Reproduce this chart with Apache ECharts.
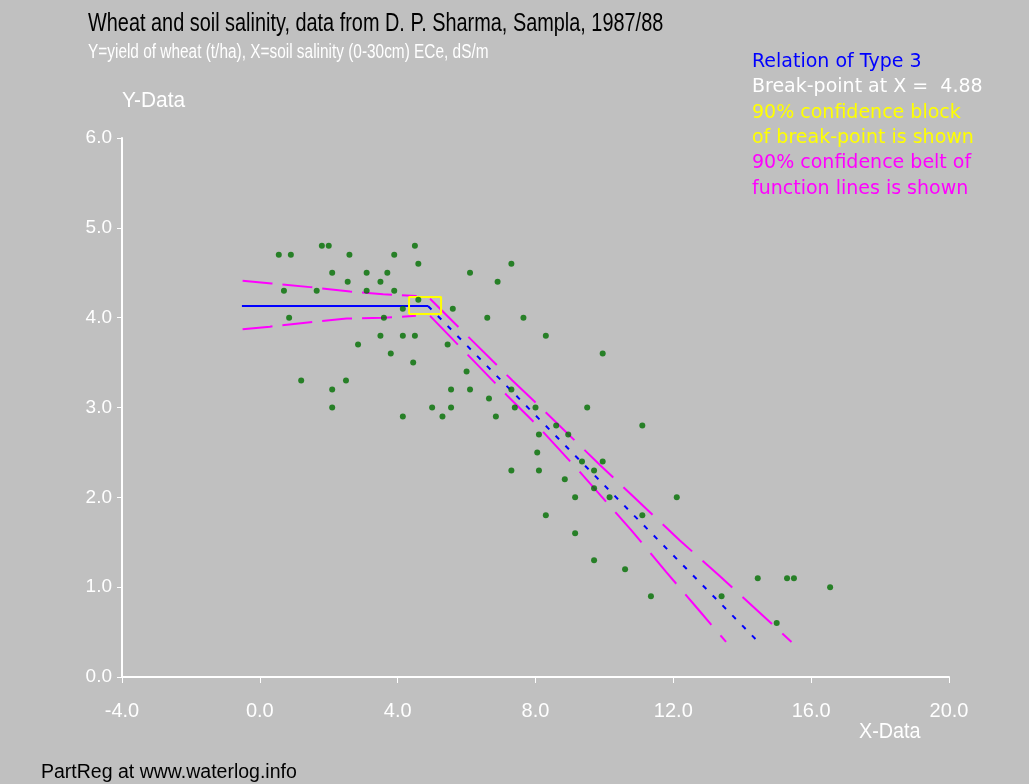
<!DOCTYPE html>
<html>
<head>
<meta charset="utf-8">
<script src="https://cdn.jsdelivr.net/npm/echarts@6/dist/echarts.min.js"></script>
<style>
html,body{margin:0;padding:0;background:#c0c0c0;}
#chart{width:1029px;height:784px;}
</style>
</head>
<body>
<div id="chart"></div>
<script>
// ---- data ----
const salinity = [1.8,2.0,4.5,0.55,0.9,2.6,3.9,4.6,2.1,3.1,3.7,6.1,2.55,3.5,0.7,1.65,3.1,3.9,4.6,4.15,5.6,0.85,3.6,6.6,3.5,4.15,4.5,2.85,5.45,3.8,4.45,6.0,1.2,2.5,2.1,5.55,6.1,6.65,2.1,5.0,5.55,4.15,5.3,7.3,6.9,7.65,8.3,9.95,7.3,7.4,8.0,9.5,6.85,8.6,11.1,8.1,8.95,8.05,9.35,9.95,7.3,8.1,9.7,8.85,9.7,9.15,10.15,12.1,11.1,8.3,9.15,9.7,10.6,11.35,13.4,14.45,15.3,15.5,16.55,15.0];
const yieldT   = [4.8,4.8,4.8,4.7,4.7,4.7,4.7,4.6,4.5,4.5,4.5,4.5,4.4,4.4,4.3,4.3,4.3,4.3,4.2,4.1,4.1,4.0,4.0,4.0,3.8,3.8,3.8,3.7,3.7,3.6,3.5,3.4,3.3,3.3,3.2,3.2,3.2,3.1,3.0,3.0,3.0,2.9,2.9,4.6,4.4,4.0,3.8,3.6,3.2,3.0,3.0,3.0,2.9,2.8,2.8,2.7,2.7,2.5,2.4,2.4,2.3,2.3,2.3,2.2,2.1,2.0,2.0,2.0,1.8,1.8,1.6,1.3,1.2,0.9,0.9,1.1,1.1,1.1,1.0,0.6];

const breakX = 4.88;
const fitFlat  = [[-0.52,4.13],[4.88,4.13]];
const fitSlope = [[4.88,4.13],[14.47,0.39]];
const beltUpperFlat  = [[-0.5,4.41],[0.34,4.38],[1.46,4.34],[2.62,4.29],[3.58,4.26],[4.55,4.24]];
const beltLowerFlat  = [[-0.5,3.87],[0.29,3.90],[1.46,3.95],[2.52,3.99],[3.58,4.00],[4.53,4.02]];
const beltUpperSlope = [[4.94,4.21],[7.33,3.30],[8.37,2.92],[9.87,2.36],[11.03,1.94],[12.19,1.52],[13.33,1.13],[15.43,0.39]];
const beltLowerSlope = [[4.94,4.02],[7.16,3.14],[8.0,2.82],[9.2,2.32],[10.05,1.95],[10.79,1.63],[11.79,1.17],[12.75,0.74],[13.53,0.39]];
const confBlock = [[4.33,4.04],[5.26,4.04],[5.26,4.23],[4.33,4.23],[4.33,4.04]];

const titleText = 'Wheat and soil salinity, data from D. P. Sharma, Sampla, 1987/88';
const subText = 'Y=yield of wheat (t/ha), X=soil salinity (0-30cm) ECe, dS/m';
const notes = [
  ['Relation of Type 3', '#0000ff'],
  ['Break-point at X =  ' + breakX.toFixed(2), '#ffffff'],
  ['90% confidence block', '#ffff00'],
  ['of break-point is shown', '#ffff00'],
  ['90% confidence belt of', '#ff00ff'],
  ['function lines is shown', '#ff00ff']
];

const SANS = '"Liberation Sans",Arial,sans-serif';
const chart = echarts.init(document.getElementById('chart'));

function txt(x, y, text, color, size, sx, family) {
  return {type:'text', x:x, y:y, scaleX:sx || 1, silent:true,
    style:{text:text, fill:color, font:size + 'px ' + (family || SANS), verticalAlign:'top', align:'left'}};
}

const graphics = [
  txt(88, 10.5, titleText, '#000000', 26, 0.765),
  txt(88, 42, subText, '#ffffff', 20, 0.77),
  txt(122, 90, 'Y-Data', '#ffffff', 22, 0.95),
  txt(859, 721, 'X-Data', '#ffffff', 22, 0.9),
  txt(41, 763, 'PartReg at www.waterlog.info', '#000000', 19.5, 1)
];
notes.forEach((n, i) => {
  graphics.push(txt(752, 52.7 + i*25.3, n[0], n[1], 19, 1, '"DejaVu Sans",sans-serif'));
});

function lineSeries(data, color, width, dash) {
  return {type:'line', data:data, symbol:'none', silent:true, animation:false,
    lineStyle:{color:color, width:width, type:dash || 'solid'}, z:3};
}

chart.setOption({
  backgroundColor:'#c0c0c0',
  animation:false,
  grid:{left:122, right:80, top:138, bottom:107},
  xAxis:{type:'value', min:-4, max:20, interval:4,
    axisLine:{lineStyle:{color:'#ffffff', width:2}},
    axisTick:{show:true, length:6, lineStyle:{color:'#ffffff', width:1}},
    axisLabel:{color:'#ffffff', fontSize:20, fontFamily:SANS, margin:24, formatter:v=>v.toFixed(1)},
    splitLine:{show:false}},
  yAxis:{type:'value', min:0, max:6, interval:1,
    axisLine:{show:true, onZero:false, lineStyle:{color:'#ffffff', width:2}},
    axisTick:{show:true, length:5, lineStyle:{color:'#ffffff', width:1}},
    axisLabel:{color:'#ffffff', fontSize:19, fontFamily:SANS, margin:10, formatter:v=>v.toFixed(1)},
    splitLine:{show:false}},
  graphic:graphics,
  series:[
    lineSeries(beltUpperFlat, '#ff00ff', 2, [30,10]),
    lineSeries(beltLowerFlat, '#ff00ff', 2, [30,10]),
    lineSeries(beltUpperSlope, '#ff00ff', 2, [40,14]),
    lineSeries(beltLowerSlope, '#ff00ff', 2, [40,14]),
    lineSeries(fitFlat, '#0000ff', 2),
    lineSeries(fitSlope, '#0000ff', 2, [5,9]),
    lineSeries(confBlock, '#ffff00', 2),
    {type:'scatter', data:salinity.map((x,i)=>[x, yieldT[i]]), symbol:'circle', symbolSize:6,
      itemStyle:{color:'#006f00'}, silent:true, z:5}
  ]
});
</script>
</body>
</html>
